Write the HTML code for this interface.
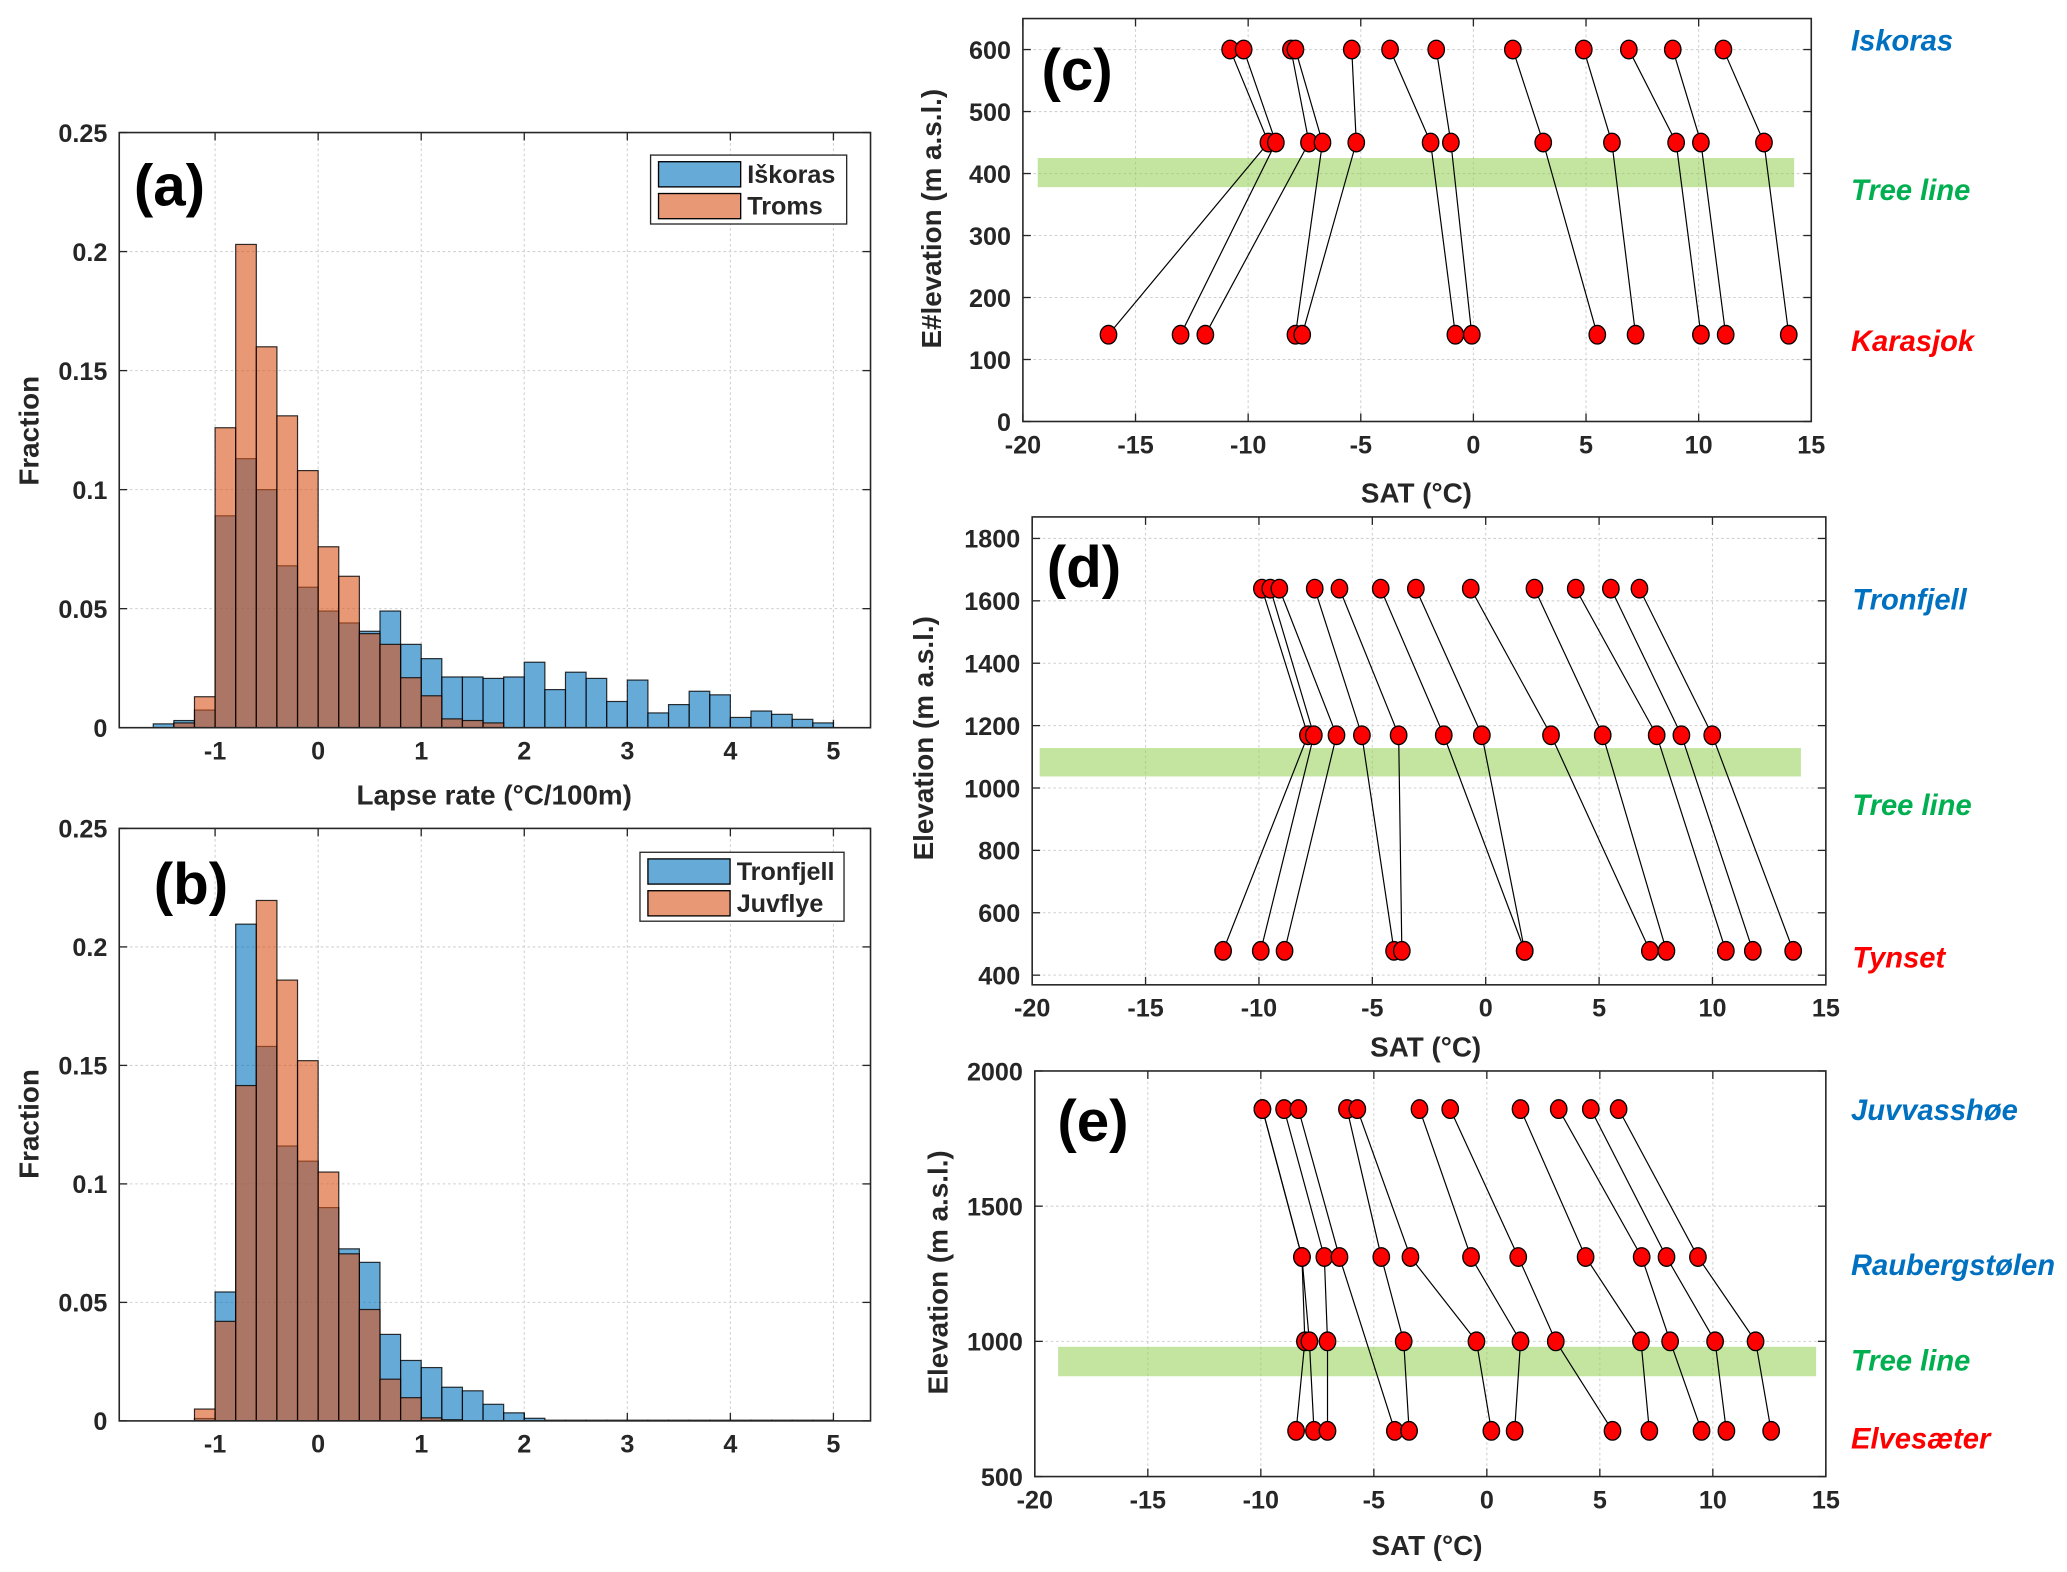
<!DOCTYPE html>
<html><head><meta charset="utf-8"><style>
html,body{margin:0;padding:0;background:#fff;}
svg{display:block;font-family:"Liberation Sans",sans-serif;}
.tk{font-size:19px;font-weight:bold;fill:#262626;}
.ttl{font-size:21px;font-weight:bold;fill:#262626;}
.pl{font-size:44px;font-weight:bold;fill:#000;}
.st{font-size:22px;font-weight:bold;font-style:italic;}
</style></head><body>
<svg id="fig" width="2067" height="1572" viewBox="0 0 1560 1186" preserveAspectRatio="none">
<rect width="1560" height="1186" fill="#fff"/>
<g id="pa"></g>
<g id="pb"></g>
<g id="pc"></g>
<g id="pd"></g>
<g id="pe"></g>
<!-- static labels -->
<text class="pl" x="101" y="155">(a)</text>
<text class="pl" x="116" y="682">(b)</text>
<text class="pl" x="786" y="68">(c)</text>
<text class="pl" x="790" y="443">(d)</text>
<text class="pl" x="798" y="861">(e)</text>
<text class="ttl" transform="translate(29,325) rotate(-90)" text-anchor="middle">Fraction</text>
<text class="ttl" transform="translate(29,848) rotate(-90)" text-anchor="middle">Fraction</text>
<text class="ttl" x="373" y="607" text-anchor="middle">Lapse rate (°C/100m)</text>
<text class="ttl" transform="translate(710,165) rotate(-90)" text-anchor="middle">E#levation (m a.s.l.)</text>
<text class="ttl" transform="translate(704,557) rotate(-90)" text-anchor="middle">Elevation (m a.s.l.)</text>
<text class="ttl" transform="translate(715,960) rotate(-90)" text-anchor="middle">Elevation (m a.s.l.)</text>
<text class="ttl" x="1069" y="379" text-anchor="middle">SAT (°C)</text>
<text class="ttl" x="1076" y="797" text-anchor="middle">SAT (°C)</text>
<text class="ttl" x="1077" y="1173" text-anchor="middle">SAT (°C)</text>
<text class="st" x="1397" y="38" fill="#0070c0">Iskoras</text>
<text class="st" x="1397" y="151" fill="#00b050">Tree line</text>
<text class="st" x="1397" y="265" fill="#ff0000">Karasjok</text>
<text class="st" x="1398" y="460" fill="#0070c0">Tronfjell</text>
<text class="st" x="1398" y="615" fill="#00b050">Tree line</text>
<text class="st" x="1398" y="730" fill="#ff0000">Tynset</text>
<text class="st" x="1397" y="845" fill="#0070c0">Juvvasshøe</text>
<text class="st" x="1397" y="962" fill="#0070c0">Raubergstølen</text>
<text class="st" x="1397" y="1034" fill="#00b050">Tree line</text>
<text class="st" x="1397" y="1093" fill="#ff0000">Elvesæter</text>
</svg>
<script>
// ---------- data ----------
const binStart = -1.6;
const binWidth = 0.2;
const iskoras = [0.0016,0.003,0.0074,0.089,0.113,0.100,0.068,0.059,0.049,0.044,0.0405,0.049,0.035,0.029,0.0213,0.0213,0.0207,0.0213,0.0275,0.016,0.0233,0.0207,0.011,0.020,0.0062,0.0097,0.0153,0.0138,0.0043,0.007,0.0056,0.0035,0.002];
const troms = [0,0.002,0.013,0.126,0.203,0.160,0.131,0.108,0.076,0.0636,0.0395,0.035,0.021,0.0134,0.0037,0.003,0.002,0,0,0,0,0,0,0,0,0,0,0,0,0,0,0,0];
const tronfjell = [0,0,0.001,0.0544,0.2096,0.158,0.116,0.1096,0.090,0.0726,0.0669,0.0365,0.0255,0.0225,0.0142,0.0127,0.007,0.0034,0.0011,0.0003,0.0003,0.0003,0.0003,0.0003,0.0003,0.0003,0.0003,0.0003,0.0003,0.0003,0.0003,0.0003,0.0003];
const juvflye = [0,0,0.005,0.042,0.1415,0.2196,0.186,0.152,0.105,0.0705,0.047,0.0176,0.0098,0.0013,0.0005,0,0,0,0,0,0,0,0,0,0,0,0,0,0,0,0,0,0];
const histXTicks = [-1,0,1,2,3,4,5];
const histYTicks = [0,0.05,0.1,0.15,0.2,0.25];
const histYLabels = ["0","0.05","0.1","0.15","0.2","0.25"];
const satTicks = [-20,-15,-10,-5,0,5,10,15];

const cElev = [600,450,140];
const cTop = [-10.8,-10.2,-8.1,-7.9,-5.4,-3.7,-1.65,1.75,4.9,6.9,8.85,11.1];
const cMid = [-9.1,-8.77,-7.3,-6.7,-5.2,-1.9,-1.0,3.1,6.15,9.0,10.1,12.9];
const cBot = [-16.2,-13.0,-11.9,-7.9,-7.6,-0.8,-0.07,5.5,7.2,10.1,11.2,14.0];
const cTree = [378,425];
const cYTicks = [0,100,200,300,400,500,600];

const dElev = [1639,1169,478];
const dTop = [-9.87,-9.5,-9.1,-7.54,-6.45,-4.63,-3.08,-0.66,2.15,3.97,5.52,6.78];
const dMid = [-7.84,-7.58,-6.58,-5.46,-3.84,-1.85,-0.17,2.88,5.16,7.54,8.63,9.99];
const dBot = [-11.58,-9.92,-8.87,-4.04,-3.7,1.72,1.72,7.24,7.97,10.59,11.78,13.56];
const dTree = [1037,1128];
const dYTicks = [400,600,800,1000,1200,1400,1600,1800];

const eElev = [1859,1312,1000,669];
const eTop = [-9.93,-9.93,-8.97,-8.34,-6.19,-5.73,-2.98,-1.62,1.49,3.18,4.6,5.83];
const eMid = [-8.18,-8.18,-7.19,-6.52,-4.67,-3.38,-0.70,1.39,4.37,6.85,7.95,9.34];
const eLow = [-8.05,-7.85,-7.05,null,-3.68,-0.46,1.49,3.05,6.82,8.11,10.1,11.89];
const eBot = [-8.44,-7.65,-7.05,-4.07,-3.44,0.2,1.23,5.56,7.19,9.5,10.6,12.58];
const eTree = [871,980];
const eYTicks = [500,1000,1500,2000];

// ---------- helpers ----------
const NS = 'http://www.w3.org/2000/svg';
function mk(tag, attrs, parent){
  const e = document.createElementNS(NS, tag);
  for (const k in attrs) e.setAttribute(k, attrs[k]);
  parent.appendChild(e);
  return e;
}
function scale(d0,d1,p0,p1){ return v => p0 + (v-d0)/(d1-d0)*(p1-p0); }

function axes(g, box, xs, ys, xt, xl, yt, yl, name){
  for (let i=0;i<xt.length;i++){
    const x = xs(xt[i]);
    const gl = mk('line',{x1:x,x2:x,y1:box.t,y2:box.b,stroke:'#d0d0d0','stroke-width':0.8,'stroke-dasharray':'2,2'},g);
    
    
    mk('line',{x1:x,x2:x,y1:box.b,y2:box.b-6,stroke:'#262626','stroke-width':1},g);
    mk('line',{x1:x,x2:x,y1:box.t,y2:box.t+6,stroke:'#262626','stroke-width':1},g);
    const t = mk('text',{x:x,y:box.b+24,'text-anchor':'middle',class:'tk'},g);
    t.textContent = xl[i];
    
    
  }
  for (let i=0;i<yt.length;i++){
    const y = ys(yt[i]);
    const gl = mk('line',{x1:box.l,x2:box.r,y1:y,y2:y,stroke:'#d0d0d0','stroke-width':0.8,'stroke-dasharray':'2,2'},g);
    
    
    mk('line',{x1:box.l,x2:box.l+6,y1:y,y2:y,stroke:'#262626','stroke-width':1},g);
    mk('line',{x1:box.r,x2:box.r-6,y1:y,y2:y,stroke:'#262626','stroke-width':1},g);
    const t = mk('text',{x:box.l-9,y:y+7,'text-anchor':'end',class:'tk'},g);
    t.textContent = yl[i];
    
    
  }
}
function frame(g, box, name){
  const r = mk('rect',{x:box.l,y:box.t,width:box.r-box.l,height:box.b-box.t,fill:'none',stroke:'#262626','stroke-width':1.2},g);
  
  
}

function histPanel(id, box, s1, s2, n1, n2, legBox){
  const g = document.getElementById(id);
  const xs = scale(-1.93,5.36,box.l,box.r);
  const ys = scale(0,0.25,box.b,box.t);
  axes(g, box, xs, ys, histXTicks, histXTicks.map(String), histYTicks, histYLabels, id);
  const series = [[s1,'rgb(0,114,189)',n1],[s2,'rgb(217,83,25)',n2]];
  for (const [vals,col,nm] of series){
    for (let i=0;i<vals.length;i++){
      if (vals[i] <= 0) continue;
      const x0 = xs(binStart + i*binWidth), x1 = xs(binStart + (i+1)*binWidth);
      const y = ys(vals[i]);
      const r = mk('rect',{x:x0,y:y,width:x1-x0,height:box.b-y,fill:col,'fill-opacity':0.6,stroke:'#000','stroke-opacity':0.8,'stroke-width':0.9},g);
      
      
    }
  }
  frame(g, box, id);
  // legend
  const lg = mk('g',{},g);
  
  
  mk('rect',{x:legBox.x,y:legBox.y,width:legBox.w,height:52,fill:'#fff',stroke:'#262626','stroke-width':1},lg);
  for (let k=0;k<2;k++){
    const yy = legBox.y + 5 + k*24;
    const sw = mk('rect',{x:legBox.x+6,y:yy,width:62,height:19,fill:series[k][1],'fill-opacity':0.6,stroke:'#000','stroke-width':1},lg);
    
    
    const t = mk('text',{x:legBox.x+73,y:yy+16,class:'tk','font-size':'18px',fill:'#000'},lg);
    t.textContent = series[k][2];
    
    
  }
}

function profilePanel(id, box, ylim, yt, elev, levels, tree, treeX){
  const g = document.getElementById(id);
  const xs = scale(-20,15,box.l,box.r);
  const ys = scale(ylim[0],ylim[1],box.b,box.t);
  axes(g, box, xs, ys, satTicks, satTicks.map(String), yt, yt.map(String), id);
  const band = mk('rect',{x:xs(treeX[0]),y:ys(tree[1]),width:xs(treeX[1])-xs(treeX[0]),height:ys(tree[0])-ys(tree[1]),fill:'rgb(146,208,80)','fill-opacity':0.55},g);
  
  
  const n = levels[0].length;
  for (let i=0;i<n;i++){
    const pts = [];
    for (let L=0;L<levels.length;L++){
      if (levels[L][i] === null) continue;
      pts.push(xs(levels[L][i]).toFixed(1)+','+ys(elev[L]).toFixed(1));
    }
    const pl = mk('polyline',{points:pts.join(' '),fill:'none',stroke:'#000','stroke-width':0.9},g);
    
    
  }
  for (let L=0;L<levels.length;L++){
    for (let i=0;i<n;i++){
      if (levels[L][i] === null) continue;
      const c = mk('ellipse',{cx:xs(levels[L][i]),cy:ys(elev[L]),rx:6.2,ry:7,fill:'#ff0000',stroke:'#000','stroke-width':1},g);
      
      
    }
  }
  frame(g, box, id);
}

histPanel('pa',{l:90,r:657,t:100,b:549},iskoras,troms,'Iškoras','Troms',{x:491,y:117,w:148});
histPanel('pb',{l:90,r:657,t:625,b:1072},tronfjell,juvflye,'Tronfjell','Juvflye',{x:483,y:643,w:154});
profilePanel('pc',{l:772,r:1367,t:14,b:318},[0,650],cYTicks,cElev,[cTop,cMid,cBot],cTree,[-19.34,14.24]);
profilePanel('pd',{l:779,r:1378,t:390,b:743},[369,1869],dYTicks,dElev,[dTop,dMid,dBot],dTree,[-19.67,13.9]);
profilePanel('pe',{l:781,r:1378,t:808,b:1114},[500,2000],eYTicks,eElev,[eTop,eMid,eLow,eBot],eTree,[-18.97,14.57]);
</script>
</body></html>
